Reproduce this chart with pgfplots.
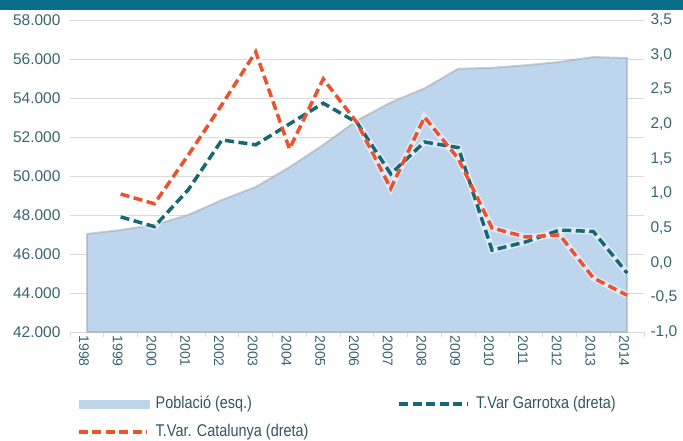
\documentclass[border=0pt]{standalone}
\usepackage{fontspec}
\setmainfont{Liberation Sans}
\newfontfamily\legfont[FakeStretch=0.85]{Liberation Sans}
\usepackage{pgfplots}
\usepackage{pgfplotstable}
\pgfplotsset{compat=1.18}
\definecolor{headercol}{RGB}{8,110,138}
\definecolor{areablue}{RGB}{189,214,238}
\definecolor{shadowcol}{RGB}{150,155,165}
\definecolor{gridcol}{RGB}{217,217,217}
\definecolor{tickcol}{RGB}{55,100,112}
\definecolor{legcol}{RGB}{50,85,95}
\definecolor{garrcol}{RGB}{22,104,116}
\definecolor{catcol}{RGB}{236,82,46}

\pgfplotstableread{
x pop
0 47030
1 47230
2 47500
3 48000
4 48770
5 49440
6 50450
7 51600
8 52850
9 53770
10 54500
11 55500
12 55550
13 55680
14 55850
15 56100
16 56050
}\poptable

\pgfplotstableread{
x g c
1 0.66 0.99
2 0.52 0.85
3 1.05 1.55
4 1.77 2.28
5 1.70 3.04
6 2.00 1.64
7 2.30 2.65
8 2.02 2.02
9 1.28 1.07
10 1.74 2.10
11 1.66 1.50
12 0.18 0.50
13 0.30 0.37
14 0.47 0.40
15 0.45 -0.22
16 -0.15 -0.47
}\ratetable

\begin{document}
\begin{tikzpicture}
\path[use as bounding box] (0pt,0pt) rectangle (683pt,-441pt);
\fill[headercol] (0pt,0pt) rectangle (683pt,-10pt);
\begin{axis}[
  at={(70pt,-332pt)}, anchor=south west,
  scale only axis, width=574pt, height=312pt,
  xmin=-0.5, xmax=16.5, ymin=42000, ymax=58000,
  xtick={0,...,16},
  xticklabels={1998,1999,2000,2001,2002,2003,2004,2005,2006,2007,2008,2009,2010,2011,2012,2013,2014},
  minor xtick={-0.5,0.5,...,16.5},
  ytick={42000,44000,46000,48000,50000,52000,54000,56000,58000},
  ymajorgrids, grid style={draw=gridcol, line width=0.8pt},
  major tick length=0pt, minor tick length=5pt,
  tick align=outside,
  minor tick style={draw=gridcol, line width=0.8pt},
  xtick pos=bottom, ytick pos=left,
  axis x line*=bottom, axis y line*=left,
  x axis line style={-, draw=gridcol, line width=0.8pt},
  y axis line style={draw=none},
  scaled y ticks=false,
  xticklabel style={rotate=-90, anchor=west, font=\fontsize{14}{14}\selectfont, text=tickcol, yshift=-3pt},
  yticklabel style={anchor=east, font=\fontsize{15.5}{15.5}\selectfont, text=tickcol, xshift=-6pt,
    /pgf/number format/1000 sep={.}, /pgf/number format/assume math mode=true},
]
\addplot[fill=areablue, draw=shadowcol, draw opacity=0.45, line width=2pt] table[x=x,y=pop]{\poptable} \closedcycle;
\end{axis}
\begin{axis}[
  at={(70pt,-332pt)}, anchor=south west,
  scale only axis, width=574pt, height=312pt,
  xmin=-0.5, xmax=16.5, ymin=-1, ymax=3.5,
  hide x axis,
  axis y line*=right, y axis line style={draw=none},
  ytick={-1,-0.5,0,0.5,1,1.5,2,2.5,3,3.5},
  major tick length=0pt,
  yticklabel style={anchor=west, font=\fontsize{15.5}{15.5}\selectfont, text=tickcol, xshift=3pt,
    /pgf/number format/fixed, /pgf/number format/fixed zerofill, /pgf/number format/precision=1,
    /pgf/number format/use comma, /pgf/number format/assume math mode=true},
  legend columns=2,
  legend cell align=left,
  legend image code/.code={\draw[#1] (0pt,0pt) -- (68pt,0pt); \path (75pt,0pt);},
  legend style={at={(axis description cs:0,0)}, anchor=north west, xshift=7pt, yshift=-64pt,
    draw=none, fill=none, inner sep=0pt, row sep=12pt,
    nodes={inner sep=0pt, text height=12pt, text depth=4pt},
    font=\legfont\fontsize{17}{17}\selectfont, text=legcol},
]
\addlegendimage{legend image code/.code={\fill[areablue] (0pt,-4pt) rectangle (70pt,4pt); \path (76pt,0pt);}}
\addlegendentry{\makebox[242pt][l]{Població (esq.)}}
\addplot[white, opacity=0.5, line width=6.5pt, forget plot] table[x=x,y=g]{\ratetable};
\addplot[white, opacity=0.5, line width=6.5pt, forget plot] table[x=x,y=c]{\ratetable};
\addplot[garrcol, line width=3.5pt, dash pattern=on 9pt off 4.5pt] table[x=x,y=g]{\ratetable};
\addlegendentry{T.Var Garrotxa (dreta)}
\addplot[catcol, line width=3.5pt, dash pattern=on 9pt off 4.5pt] table[x=x,y=c]{\ratetable};
\addlegendentry{T.Var. Catalunya (dreta)}
\end{axis}
\end{tikzpicture}
\end{document}
